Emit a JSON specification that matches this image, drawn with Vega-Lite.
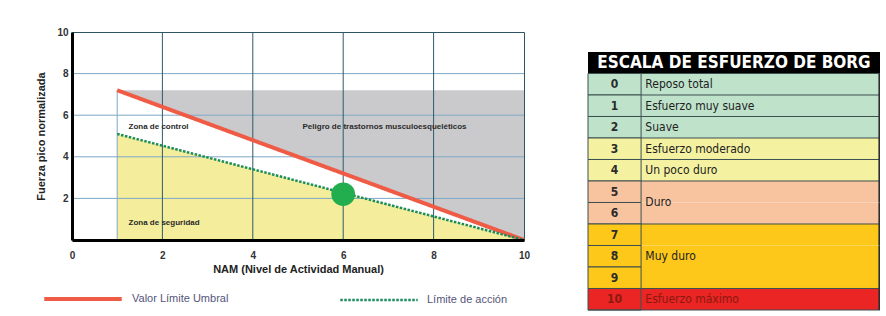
{
  "$schema": "https://vega.github.io/schema/vega-lite/v6.json",
  "background": "#ffffff",
  "padding": {"left": 35, "top": 26, "right": 0, "bottom": 0},
  "spacing": 54,
  "config": {"view": {"stroke": null}, "font": "Liberation Sans"},
  "datasets": {
    "zonas": [
      {"nam": 1, "techo": 7.2, "tlv": 7.2, "accion": 5.1},
      {"nam": 10, "techo": 7.2, "tlv": 0, "accion": 0}
    ],
    "limites": [
      {"serie": "Valor Límite Umbral", "nam": 1, "fuerza": 7.2},
      {"serie": "Valor Límite Umbral", "nam": 10, "fuerza": 0},
      {"serie": "Límite de acción", "nam": 1, "fuerza": 5.1},
      {"serie": "Límite de acción", "nam": 10, "fuerza": 0}
    ],
    "rejilla": [{"valor": 2}, {"valor": 4}, {"valor": 6}, {"valor": 8}],
    "rotulos": [
      {"nam": 1.25, "fuerza": 5.45, "zona": "Zona de control"},
      {"nam": 5.1, "fuerza": 5.45, "zona": "Peligro de trastornos musculoesqueléticos"},
      {"nam": 1.25, "fuerza": 0.8, "zona": "Zona de seguridad"}
    ],
    "medida": [{"nam": 6, "fuerza": 2.2}],
    "cabecera": [{"fila": "ESCALA", "texto": "ESCALA DE ESFUERZO DE BORG"}],
    "borg": [
      {"nivel": "0", "descripcion": "Reposo total", "intensidad": "ligero"},
      {"nivel": "1", "descripcion": "Esfuerzo muy suave", "intensidad": "ligero"},
      {"nivel": "2", "descripcion": "Suave", "intensidad": "ligero"},
      {"nivel": "3", "descripcion": "Esfuerzo moderado", "intensidad": "moderado"},
      {"nivel": "4", "descripcion": "Un poco duro", "intensidad": "moderado"},
      {"nivel": "5", "descripcion": "Duro", "intensidad": "duro"},
      {"nivel": "6", "descripcion": "Duro", "intensidad": "duro"},
      {"nivel": "7", "descripcion": "Muy duro", "intensidad": "muy duro"},
      {"nivel": "8", "descripcion": "Muy duro", "intensidad": "muy duro"},
      {"nivel": "9", "descripcion": "Muy duro", "intensidad": "muy duro"},
      {"nivel": "10", "descripcion": "Esfuerzo máximo", "intensidad": "máximo"}
    ],
    "descripciones": [
      {"fila": "0", "texto": "Reposo total", "rotulo": "0", "posicion": "centro"},
      {"fila": "1", "texto": "Esfuerzo muy suave", "rotulo": "1", "posicion": "centro"},
      {"fila": "2", "texto": "Suave", "rotulo": "2", "posicion": "centro"},
      {"fila": "3", "texto": "Esfuerzo moderado", "rotulo": "3", "posicion": "centro"},
      {"fila": "4", "texto": "Un poco duro", "rotulo": "4", "posicion": "centro"},
      {"fila": "5", "texto": "Duro", "rotulo": "6", "posicion": "limite"},
      {"fila": "7", "texto": "Muy duro", "rotulo": "8", "posicion": "centro"},
      {"fila": "10", "texto": "Esfuerzo máximo", "rotulo": "10", "posicion": "centro"}
    ]
  },
  "hconcat": [
    {
      "width": 452,
      "height": 208,
      "view": {"stroke": "#2e5566", "strokeWidth": 1},
      "layer": [
        {
          "data": {"name": "zonas"},
          "mark": {"type": "area", "fill": "#cacacd"},
          "encoding": {
            "x": {"field": "nam", "type": "quantitative", "scale": {"domain": [0, 10], "nice": false},
              "axis": {"title": "NAM (Nivel de Actividad Manual)", "values": [0, 2, 4, 6, 8, 10], "grid": false, "ticks": false,
                "domainColor": "#000000", "domainWidth": 3, "labelFontWeight": "bold", "labelFontSize": 10, "labelColor": "#333333",
                "labelPadding": 10, "labelFlush": false, "titleFontSize": 11, "titleFontWeight": "bold", "titleColor": "#222222",
                "titlePadding": 3, "zindex": 1}},
            "y": {"field": "techo", "type": "quantitative", "scale": {"domain": [0, 10], "nice": false},
              "axis": {"title": "Fuerza pico normalizada", "values": [2, 4, 6, 8, 10], "grid": false, "ticks": false,
                "domainColor": "#000000", "domainWidth": 3, "labelFontWeight": "bold", "labelFontSize": 10, "labelColor": "#333333",
                "labelPadding": 4, "titleFontSize": 11, "titleFontWeight": "bold", "titleColor": "#222222",
                "titlePadding": 10, "zindex": 1}},
            "y2": {"field": "tlv"}
          }
        },
        {
          "data": {"name": "zonas"},
          "mark": {"type": "area", "fill": "#f4ee9c"},
          "encoding": {
            "x": {"field": "nam", "type": "quantitative"},
            "y": {"field": "accion", "type": "quantitative"},
            "y2": {"datum": 0}
          }
        },
        {
          "data": {"name": "rejilla"},
          "mark": {"type": "rule", "color": "#7fa8c6", "strokeWidth": 1},
          "encoding": {"y": {"field": "valor", "type": "quantitative"}}
        },
        {
          "data": {"name": "rejilla"},
          "mark": {"type": "rule", "color": "#2e5a6a", "strokeWidth": 1},
          "encoding": {"x": {"field": "valor", "type": "quantitative"}}
        },
        {
          "data": {"name": "zonas"},
          "transform": [{"filter": "datum.nam === 1"}],
          "mark": {"type": "rule", "color": "#7fa8c6", "strokeWidth": 1},
          "encoding": {
            "x": {"field": "nam", "type": "quantitative"},
            "y": {"field": "techo", "type": "quantitative"},
            "y2": {"datum": 0}
          }
        },
        {
          "data": {"name": "rotulos"},
          "mark": {"type": "text", "align": "left", "baseline": "middle", "fontSize": 8, "fontWeight": "bold", "color": "#2a2a2a"},
          "encoding": {
            "x": {"field": "nam", "type": "quantitative"},
            "y": {"field": "fuerza", "type": "quantitative"},
            "text": {"field": "zona"}
          }
        },
        {
          "data": {"name": "limites"},
          "mark": {"type": "line"},
          "encoding": {
            "x": {"field": "nam", "type": "quantitative"},
            "y": {"field": "fuerza", "type": "quantitative"},
            "color": {"field": "serie", "type": "nominal",
              "scale": {"domain": ["Valor Límite Umbral", "Límite de acción"], "range": ["#ef5b45", "#1b8d5c"]},
              "legend": {"title": null, "orient": "none", "legendX": -30, "legendY": 226, "direction": "horizontal",
                "symbolType": "stroke", "symbolSize": 6000, "labelFontSize": 11, "labelColor": "#55557a",
                "labelOffset": 8, "columnPadding": 106, "labelLimit": 300}},
            "strokeDash": {"field": "serie", "type": "nominal",
              "scale": {"domain": ["Valor Límite Umbral", "Límite de acción"], "range": [[1, 0], [2.5, 1.5]]}},
            "strokeWidth": {"field": "serie", "type": "nominal",
              "scale": {"domain": ["Valor Límite Umbral", "Límite de acción"], "range": [4, 2.5]}}
          }
        },
        {
          "data": {"name": "medida"},
          "mark": {"type": "circle", "size": 560, "color": "#22ad4e", "opacity": 1},
          "encoding": {
            "x": {"field": "nam", "type": "quantitative"},
            "y": {"field": "fuerza", "type": "quantitative"}
          }
        }
      ]
    },
    {
      "width": 292,
      "height": 278,
      "layer": [
        {
          "data": {"name": "cabecera"},
          "mark": {"type": "rect", "fill": "#000000"},
          "encoding": {
            "x": {"datum": 0, "type": "quantitative", "scale": {"domain": [0, 5.5], "nice": false, "zero": false}, "axis": null},
            "x2": {"datum": 5.5},
            "y": {"field": "fila", "type": "nominal", "axis": null,
              "scale": {"type": "band", "domain": ["ESCALA", "0", "1", "2", "3", "4", "5", "6", "7", "8", "9", "10"],
                "paddingInner": 0, "paddingOuter": 0.465, "align": 1}}
          }
        },
        {
          "data": {"name": "cabecera"},
          "mark": {"type": "text", "align": "center", "baseline": "middle", "font": "DejaVu Sans Condensed, Liberation Sans", "fontSize": 17, "fontWeight": "bold", "color": "#ffffff"},
          "encoding": {
            "x": {"datum": 2.75, "type": "quantitative"},
            "y": {"field": "fila", "type": "nominal"},
            "text": {"field": "texto"}
          }
        },
        {
          "data": {"name": "borg"},
          "mark": {"type": "rect"},
          "encoding": {
            "x": {"datum": 1, "type": "quantitative"},
            "x2": {"datum": 5.5},
            "y": {"field": "nivel", "type": "nominal"},
            "fill": {"field": "intensidad", "type": "nominal", "legend": null,
              "scale": {"domain": ["ligero", "moderado", "duro", "muy duro", "máximo"],
                "range": ["#bfe2cb", "#f4f1a1", "#f8c4a0", "#fdc81a", "#eb2424"]}}
          }
        },
        {
          "data": {"name": "borg"},
          "mark": {"type": "rect", "stroke": "#3d4f4f", "strokeWidth": 1},
          "encoding": {
            "x": {"datum": 0, "type": "quantitative"},
            "x2": {"datum": 1},
            "y": {"field": "nivel", "type": "nominal"},
            "fill": {"field": "intensidad", "type": "nominal", "legend": null}
          }
        },
        {
          "data": {"name": "descripciones"},
          "mark": {"type": "rule", "color": "#3d4f4f", "strokeWidth": 1},
          "encoding": {
            "x": {"datum": 1, "type": "quantitative"},
            "x2": {"datum": 5.5},
            "y": {"field": "fila", "type": "nominal", "bandPosition": 0}
          }
        },
        {
          "data": {"name": "borg"},
          "transform": [{"filter": "datum.nivel === '10'"}],
          "mark": {"type": "rule", "color": "#3d4f4f", "strokeWidth": 1},
          "encoding": {
            "x": {"datum": 0, "type": "quantitative"},
            "x2": {"datum": 5.5},
            "y": {"field": "nivel", "type": "nominal", "bandPosition": 1}
          }
        },
        {
          "data": {"name": "borg"},
          "mark": {"type": "rect", "fill": "#2d2d2d"},
          "encoding": {
            "x": {"datum": 5.47, "type": "quantitative"},
            "x2": {"datum": 5.5},
            "y": {"field": "nivel", "type": "nominal"}
          }
        },
        {
          "data": {"name": "borg"},
          "mark": {"type": "text", "align": "center", "baseline": "middle", "font": "DejaVu Sans Condensed, Liberation Sans", "fontSize": 12, "fontWeight": "bold"},
          "encoding": {
            "x": {"datum": 0.5, "type": "quantitative"},
            "y": {"field": "nivel", "type": "nominal"},
            "text": {"field": "nivel"},
            "color": {"condition": {"test": "datum.nivel === '10'", "value": "#8a1a10"}, "value": "#2b2b2b"}
          }
        },
        {
          "data": {"name": "descripciones"},
          "transform": [{"filter": "datum.posicion === 'centro'"}],
          "mark": {"type": "text", "align": "left", "baseline": "middle", "font": "DejaVu Sans Condensed, Liberation Sans", "fontSize": 12},
          "encoding": {
            "x": {"datum": 1.08, "type": "quantitative"},
            "y": {"field": "rotulo", "type": "nominal"},
            "text": {"field": "texto"},
            "color": {"condition": {"test": "datum.fila === '10'", "value": "#8a1a10"}, "value": "#222222"}
          }
        },
        {
          "data": {"name": "descripciones"},
          "transform": [{"filter": "datum.posicion === 'limite'"}],
          "mark": {"type": "text", "align": "left", "baseline": "middle", "font": "DejaVu Sans Condensed, Liberation Sans", "fontSize": 12, "color": "#222222"},
          "encoding": {
            "x": {"datum": 1.08, "type": "quantitative"},
            "y": {"field": "rotulo", "type": "nominal", "bandPosition": 0},
            "text": {"field": "texto"}
          }
        }
      ]
    }
  ]
}
